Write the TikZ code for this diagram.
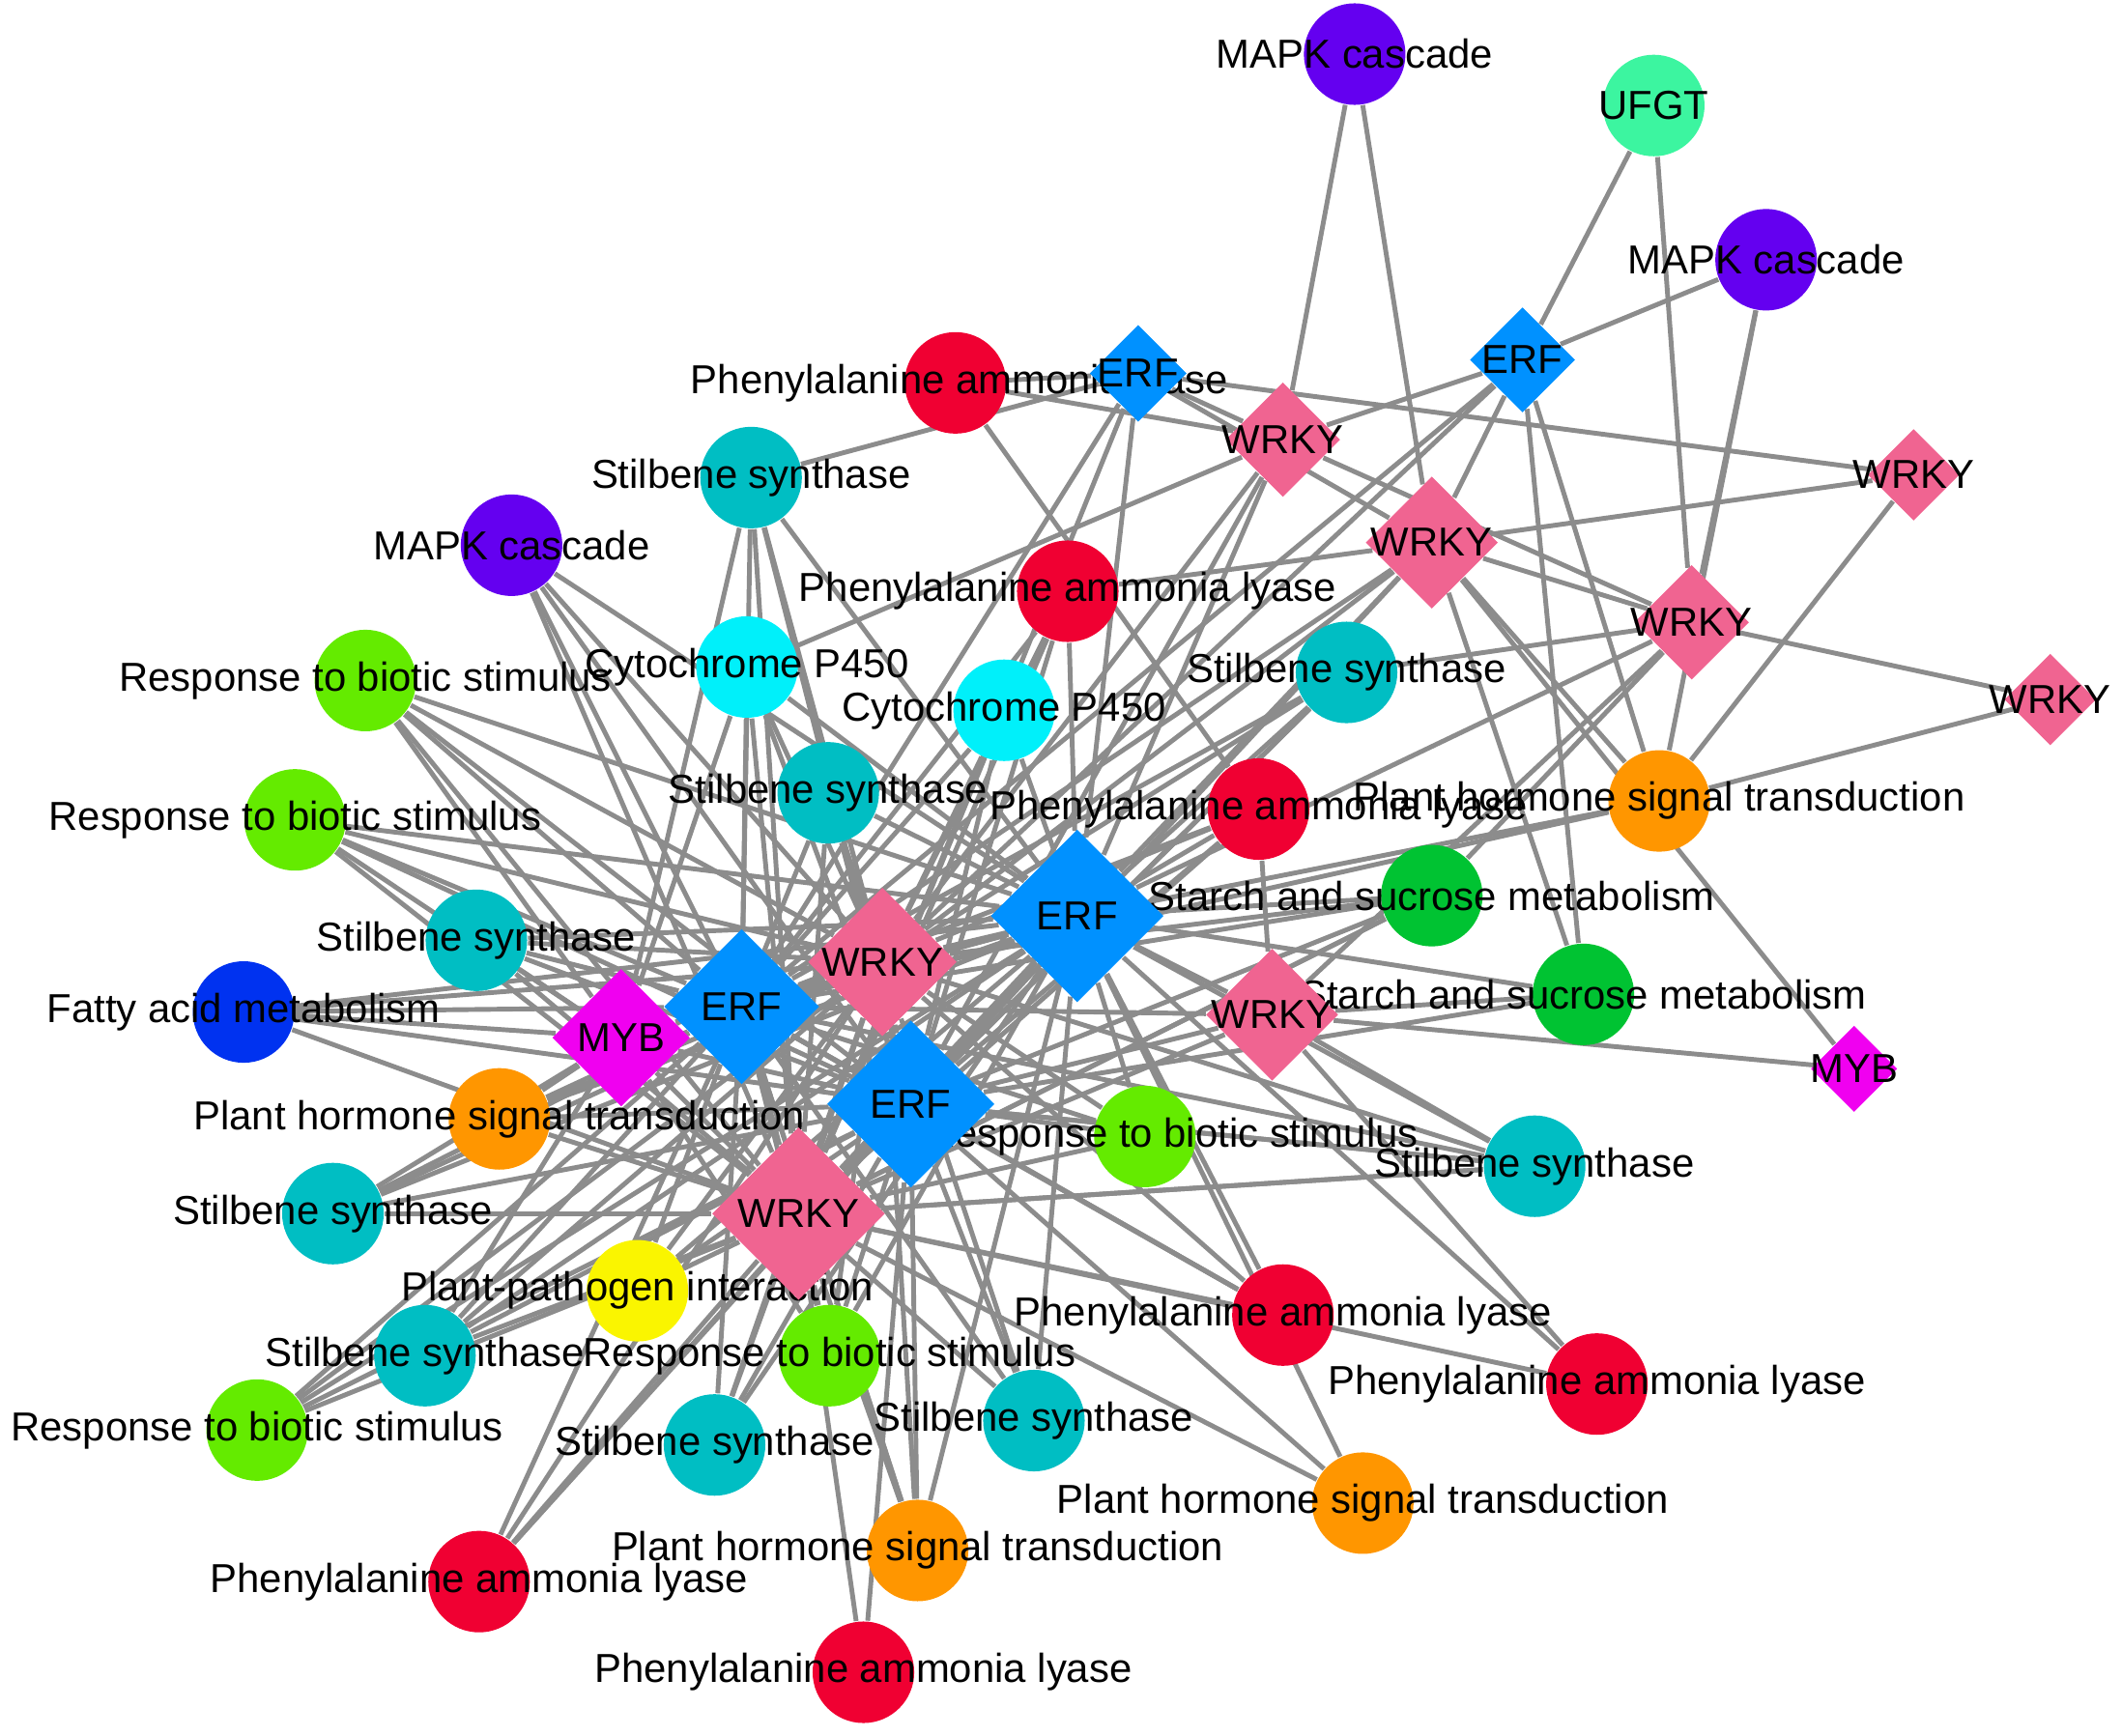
\documentclass[tikz,border=0pt]{standalone}
\usepackage{fontspec}
\setmainfont{Liberation Sans}
\usetikzlibrary{shapes.geometric,backgrounds}

\definecolor{cpal}{RGB}{240,0,50}
\definecolor{csts}{RGB}{0,190,195}
\definecolor{ccyp}{RGB}{0,240,250}
\definecolor{cmapk}{RGB}{100,0,240}
\definecolor{crbs}{RGB}{100,235,0}
\definecolor{cpht}{RGB}{255,150,0}
\definecolor{cssm}{RGB}{0,195,50}
\definecolor{cfam}{RGB}{0,50,240}
\definecolor{cufgt}{RGB}{60,245,160}
\definecolor{cppi}{RGB}{250,245,0}
\definecolor{cerf}{RGB}{0,145,255}
\definecolor{cwrky}{RGB}{240,100,145}
\definecolor{cmyb}{RGB}{240,0,240}
\definecolor{cedge}{RGB}{140,140,140}

\tikzset{
  gene/.style={circle,draw=none,fill=#1,minimum size=0.75cm,inner sep=0pt},
  tf/.style={diamond,draw=none,fill=#1,inner sep=0pt},
  lbl/.style={font=\fontsize{8.5}{9.5}\selectfont},
  link/.style={cedge,line width=1pt}
}

\begin{document}
\begin{tikzpicture}[x=0.01cm,y=-0.01cm]
\useasboundingbox (0,0) rectangle (1568,1283);

% genes
\node[gene=cmapk,label={[lbl]center:MAPK cascade}] (mapka) at (1001,40) {};
\node[gene=cufgt,label={[lbl]center:UFGT}] (ufgt) at (1222,78) {};
\node[gene=cmapk,label={[lbl]center:MAPK cascade}] (mapkb) at (1305,192) {};
\node[gene=cpal,label={[lbl,xshift=0.03cm]center:Phenylalanine ammonia lyase}] (pala) at (706,283) {};
\node[gene=csts,label={[lbl]center:Stilbene synthase}] (stsa) at (555,353) {};
\node[gene=cmapk,label={[lbl]center:MAPK cascade}] (mapkc) at (378,403) {};
\node[gene=cpal,label={[lbl]center:Phenylalanine ammonia lyase}] (palb) at (789,437) {};
\node[gene=ccyp,label={[lbl]center:Cytochrome P450}] (cypa) at (552,493) {};
\node[gene=ccyp,label={[lbl]center:Cytochrome P450}] (cypb) at (742,525) {};
\node[gene=csts,label={[lbl]center:Stilbene synthase}] (stsb) at (995,497) {};
\node[gene=crbs,label={[lbl]center:Response to biotic stimulus}] (rbsa) at (270,503) {};
\node[gene=crbs,label={[lbl]center:Response to biotic stimulus}] (rbsb) at (218,606) {};
\node[gene=csts,label={[lbl]center:Stilbene synthase}] (stsc) at (612,586) {};
\node[gene=cpal,label={[lbl]center:Phenylalanine ammonia lyase}] (palc) at (930,598) {};
\node[gene=cpht,label={[lbl]center:Plant hormone signal transduction}] (phta) at (1226,592) {};
\node[gene=cssm,label={[lbl]center:Starch and sucrose metabolism}] (ssma) at (1058,662) {};
\node[gene=csts,label={[lbl]center:Stilbene synthase}] (stsd) at (352,695) {};
\node[gene=cfam,label={[lbl]center:Fatty acid metabolism}] (fam) at (180,748) {};
\node[gene=cssm,label={[lbl]center:Starch and sucrose metabolism}] (ssmb) at (1170,735) {};
\node[gene=cpht,label={[lbl]center:Plant hormone signal transduction}] (phtb) at (369,827) {};
\node[gene=crbs,label={[lbl,xshift=0.2cm]center:Response to biotic stimulus}] (rbsc) at (846,840) {};
\node[gene=csts,label={[lbl]center:Stilbene synthase}] (stse) at (1134,862) {};
\node[gene=csts,label={[lbl]center:Stilbene synthase}] (stsf) at (246,897) {};
\node[gene=cppi,label={[lbl]center:Plant-pathogen interaction}] (ppi) at (471,954) {};
\node[gene=cpal,label={[lbl]center:Phenylalanine ammonia lyase}] (pald) at (948,972) {};
\node[gene=csts,label={[lbl]center:Stilbene synthase}] (stsg) at (314,1002) {};
\node[gene=crbs,label={[lbl]center:Response to biotic stimulus}] (rbsd) at (613,1002) {};
\node[gene=cpal,label={[lbl]center:Phenylalanine ammonia lyase}] (pale) at (1180,1023) {};
\node[gene=crbs,label={[lbl]center:Response to biotic stimulus}] (rbse) at (190,1057) {};
\node[gene=csts,label={[lbl]center:Stilbene synthase}] (stsh) at (764,1050) {};
\node[gene=csts,label={[lbl]center:Stilbene synthase}] (stsi) at (528,1068) {};
\node[gene=cpht,label={[lbl]center:Plant hormone signal transduction}] (phtc) at (1007,1111) {};
\node[gene=cpht,label={[lbl]center:Plant hormone signal transduction}] (phtd) at (678,1146) {};
\node[gene=cpal,label={[lbl]center:Phenylalanine ammonia lyase}] (palf) at (354,1169) {};
\node[gene=cpal,label={[lbl]center:Phenylalanine ammonia lyase}] (palg) at (638,1236) {};

% transcription factors
\node[tf=cerf,minimum size=0.72cm,label={[lbl]center:ERF}] (erfa) at (841,276) {};
\node[tf=cerf,minimum size=0.78cm,label={[lbl]center:ERF}] (erfb) at (1125,266) {};
\node[tf=cwrky,minimum size=0.85cm,label={[lbl]center:WRKY}] (wrkya) at (948,325) {};
\node[tf=cwrky,minimum size=0.68cm,label={[lbl]center:WRKY}] (wrkyb) at (1414,351) {};
\node[tf=cwrky,minimum size=0.98cm,label={[lbl]center:WRKY}] (wrkyc) at (1058,401) {};
\node[tf=cwrky,minimum size=0.85cm,label={[lbl]center:WRKY}] (wrkyd) at (1250,460) {};
\node[tf=cwrky,minimum size=0.68cm,label={[lbl]center:WRKY}] (wrkye) at (1515,517) {};
\node[tf=cerf,minimum size=1.28cm,label={[lbl]center:ERF}] (erfc) at (796,677) {};
\node[tf=cwrky,minimum size=1.1cm,label={[lbl]center:WRKY}] (wrkyf) at (652,711) {};
\node[tf=cerf,minimum size=1.15cm,label={[lbl]center:ERF}] (erfd) at (548,744) {};
\node[tf=cmyb,minimum size=1.02cm,label={[lbl]center:MYB}] (myba) at (459,767) {};
\node[tf=cwrky,minimum size=0.98cm,label={[lbl]center:WRKY}] (wrkyg) at (940,750) {};
\node[tf=cmyb,minimum size=0.64cm,label={[lbl]center:MYB}] (mybb) at (1370,790) {};
\node[tf=cerf,minimum size=1.24cm,label={[lbl]center:ERF}] (erfe) at (673,816) {};
\node[tf=cwrky,minimum size=1.28cm,label={[lbl]center:WRKY}] (wrkyh) at (590,897) {};

\begin{scope}[on background layer]
% hub links
\foreach \h in {erfc,erfd,erfe,wrkyf,wrkyh}
  \foreach \t in {stsa,mapkc,palb,cypa,cypb,stsb,rbsa,rbsb,stsc,palc,ssma,stsd,fam,phtb,rbsc,stse,stsf,ppi,pald,stsg,rbsd,rbse,stsh,stsi,phtd,palf}
    \draw[link] (\h) -- (\t);
\foreach \t in {erfd,erfe,wrkyf,wrkyh,erfc,rbsa,rbsb,stsd,fam,phtb,stsf,stsa,cypa,rbsd,stsg}
  \draw[link] (myba) -- (\t);
\foreach \a/\b in {erfc/erfd,erfc/erfe,erfc/wrkyf,erfc/wrkyh,erfd/erfe,erfd/wrkyf,erfd/wrkyh,erfe/wrkyf,erfe/wrkyh,wrkyf/wrkyh}
  \draw[link] (\a) -- (\b);
% outer links
\foreach \a/\b in {mapka/wrkya,mapka/wrkyc,ufgt/erfb,ufgt/wrkyd,mapkb/erfb,mapkb/wrkyd,mapkb/phta,
  wrkyb/wrkyc,wrkyb/phta,wrkyb/erfa,wrkye/wrkyd,wrkye/phta,erfb/wrkyc,erfb/phta,erfb/ssmb,erfb/wrkya,
  erfb/wrkyf,erfb/erfd,wrkyd/wrkyc,wrkyd/ssma,wrkyd/stsb,wrkyd/erfc,wrkyd/wrkyg,mybb/wrkyg,mybb/wrkyc,
  erfa/wrkya,erfa/wrkyc,erfa/stsa,erfa/erfc,erfa/erfd,erfa/wrkyh,pala/erfa,pala/wrkya,pala/palc,
  wrkya/erfc,wrkya/erfe,wrkya/wrkyf,wrkya/cypa,wrkya/wrkyd,wrkyc/erfc,wrkyc/erfd,wrkyc/wrkyf,
  wrkyc/palb,wrkyc/ssmb,wrkyc/phta,wrkyc/erfe,wrkyg/ssmb,wrkyg/stse,wrkyg/pale,wrkyg/palc,
  wrkyg/erfc,wrkyg/erfd,wrkyg/erfe,wrkyg/wrkyh,erfc/phta,erfc/ssmb,erfc/pale,erfc/phtc,
  erfe/phtc,wrkyh/phtc,wrkyh/pale,erfd/pald,erfe/palg,wrkyh/palg,erfd/phtd,erfe/stse,wrkyh/stse,
  erfe/ssmb,wrkyh/ssma,erfd/phta}
  \draw[link] (\a) -- (\b);
\end{scope}
\end{tikzpicture}
\end{document}
